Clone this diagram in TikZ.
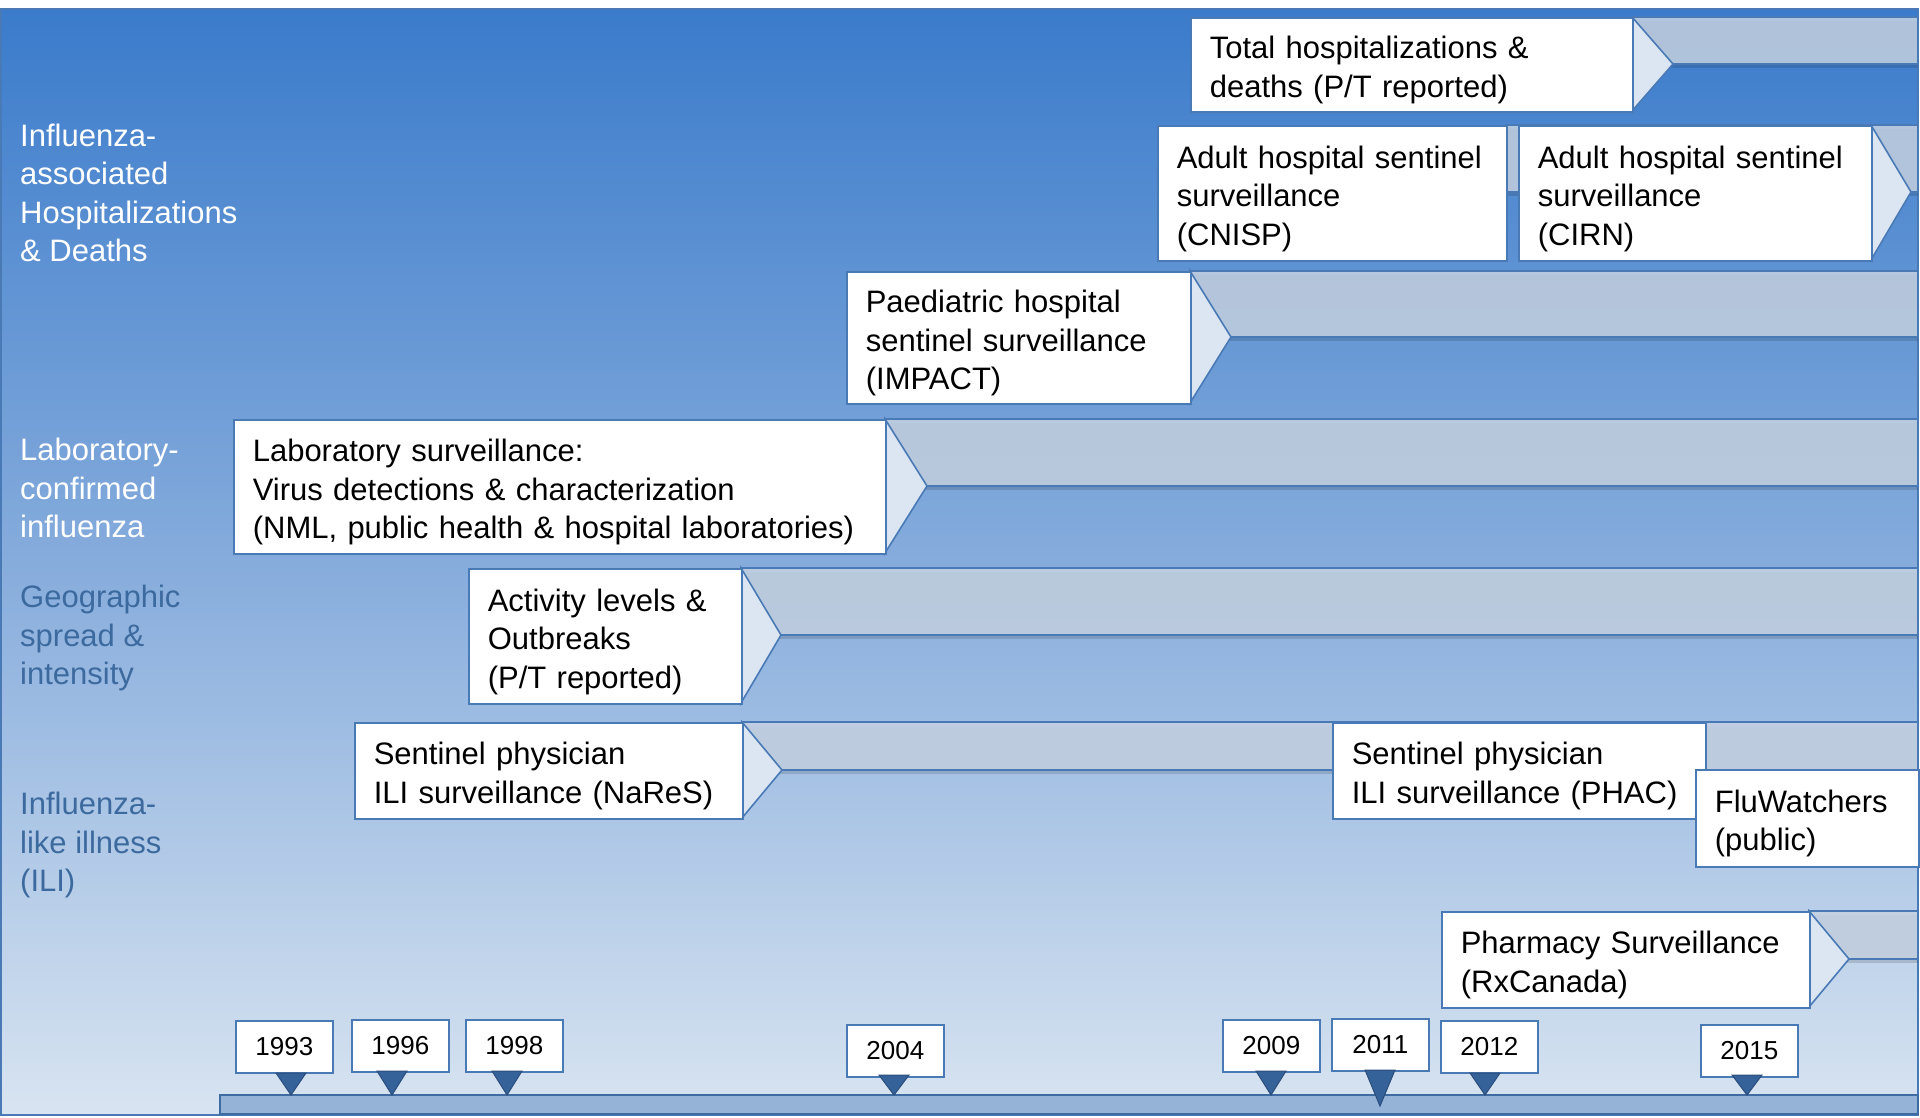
\documentclass[tikz,border=0pt]{standalone}
\usepackage{fontspec}
\setmainfont{Liberation Sans}
\definecolor{bgtop}{HTML}{3A7BCB}
\definecolor{bgmid}{HTML}{86ACDC}
\definecolor{bgbot}{HTML}{D8E4F1}
\definecolor{bdr}{HTML}{4A7AB6}
\definecolor{chevfill}{HTML}{DCE6F2}
\definecolor{bandfill}{HTML}{C5D2E2}
\definecolor{markfill}{HTML}{36629A}
\definecolor{markdraw}{HTML}{2B4E7C}
\definecolor{barfill}{HTML}{95B3D7}
\definecolor{bardraw}{HTML}{3F6BA3}
\definecolor{lbldark}{HTML}{3D6A9E}
\pgfdeclareverticalshading{bgshade}{100bp}{color(0bp)=(bgbot); color(25bp)=(bgbot); color(50bp)=(bgmid); color(75bp)=(bgtop); color(100bp)=(bgtop)}
\tikzset{
  box/.style={draw=bdr, line width=1.6pt, fill=white, anchor=north west, align=left,
    inner xsep=19pt, inner ysep=0pt, text=black, text height=33pt,
    font=\fontsize{31}{38.5}\selectfont},
  yearbox/.style={draw=bdr, line width=1.6pt, fill=white, anchor=north west,
    minimum width=97pt, minimum height=52pt, inner sep=0pt, text=black,
    font=\fontsize{26}{30}\selectfont},
  bandst/.style={draw=bdr, line width=1.4pt, fill=bandfill, fill opacity=.85},
  bandshadow/.style={fill=black, opacity=.13},
  chevst/.style={draw=bdr, line width=1.6pt, fill=chevfill, line join=miter},
  markst/.style={draw=markdraw, line width=1pt, fill=markfill},
  lbllight/.style={anchor=west, align=left, text=white, inner sep=0pt, font=\fontsize{31}{38.5}\selectfont},
  lbldarkst/.style={anchor=west, align=left, text=lbldark, inner sep=0pt, font=\fontsize{31}{38.5}\selectfont}
}
\begin{document}
\begin{tikzpicture}[x=1pt,y=-1pt]
\useasboundingbox (0,0) rectangle (1920,1117);
\fill[white] (0,0) rectangle (1920,1117);
\shade[shading=bgshade, draw=bdr, line width=1.5pt] (1,9) rectangle (1918,1115);

% left category labels
\node[lbllight] (lab1) at (20,193) {Influenza-\\associated\\Hospitalizations\\\& Deaths};
\node[lbllight] (lab2) at (20,488) {Laboratory-\\confirmed\\influenza};
\node[lbldarkst] (lab3) at (20,638) {Geographic\\spread \&\\intensity};
\node[lbldarkst] (lab4) at (20,845) {Influenza-\\like illness\\(ILI)};

% 1 Total hospitalizations
\fill[bandshadow] (1632,21) rectangle (1918,68);
\draw[bandst] (1632,17) rectangle (1918,64);
\draw[chevst] (1632,17) -- (1673,64) -- (1632,111) -- cycle;
\node[box, minimum width=442pt, minimum height=94pt, text width=404pt] (tot) at (1190,17)
  {Total hospitalizations \&\\deaths (P/T reported)};

% 2/3 Adult CNISP / CIRN
\fill[bandshadow] (1506,129) rectangle (1918,196);
\draw[bandst] (1506,125) rectangle (1918,192);
\node[box, minimum width=349pt, minimum height=135pt, text width=311pt] (cnisp) at (1157,125)
  {Adult hospital sentinel\\surveillance\\(CNISP)};
\draw[chevst] (1871,125) -- (1911,192) -- (1871,260) -- cycle;
\node[box, minimum width=353pt, minimum height=135pt, text width=315pt] (cirn) at (1518,125)
  {Adult hospital sentinel\\surveillance\\(CIRN)};

% 4 Paediatric IMPACT
\fill[bandshadow] (1190,275) rectangle (1918,341);
\draw[bandst] (1190,271) rectangle (1918,337);
\draw[chevst] (1190,271) -- (1231,337) -- (1190,403) -- cycle;
\node[box, minimum width=344pt, minimum height=132pt, text width=306pt] (impact) at (846,271)
  {Paediatric hospital\\sentinel surveillance\\(IMPACT)};

% 5 Laboratory
\fill[bandshadow] (885,423) rectangle (1918,490);
\draw[bandst] (885,419) rectangle (1918,486);
\draw[chevst] (885,419) -- (927,486) -- (885,553) -- cycle;
\node[box, minimum width=652pt, minimum height=134pt, text width=614pt] (lab) at (233,419)
  {Laboratory surveillance:\\Virus detections \& characterization\\(NML, public health \& hospital laboratories)};

% 6 Activity levels
\fill[bandshadow] (741,572) rectangle (1918,639);
\draw[bandst] (741,568) rectangle (1918,635);
\draw[chevst] (741,568) -- (781,635) -- (741,703) -- cycle;
\node[box, minimum width=273pt, minimum height=135pt, text width=235pt] (act) at (468,568)
  {Activity levels \&\\Outbreaks\\(P/T reported)};

% 7 Sentinel NaReS
\fill[bandshadow] (742,726) rectangle (1918,774);
\draw[bandst] (742,722) rectangle (1918,770);
\draw[chevst] (742,722) -- (782,770) -- (742,818) -- cycle;
\node[box, minimum width=388pt, minimum height=96pt, text width=350pt] (nares) at (354,722)
  {Sentinel physician\\ILI surveillance (NaReS)};

% 8 Sentinel PHAC
\node[box, minimum width=373pt, minimum height=96pt, text width=335pt] (phac) at (1332,722)
  {Sentinel physician\\ILI surveillance (PHAC)};

% 9 FluWatchers
\node[box, minimum width=223pt, minimum height=97pt, text width=185pt] (flu) at (1695,769)
  {FluWatchers\\(public)};

% 10 Pharmacy
\fill[bandshadow] (1809,915) rectangle (1918,963);
\draw[bandst] (1809,911) rectangle (1918,959);
\draw[chevst] (1809,911) -- (1849,959) -- (1809,1007) -- cycle;
\node[box, minimum width=368pt, minimum height=96pt, text width=330pt] (rx) at (1441,911)
  {Pharmacy Surveillance\\(RxCanada)};

% timeline bar
\draw[draw=bardraw, line width=1.6pt, fill=barfill] (220,1095) rectangle (1918,1114);

% year boxes
\node[yearbox] (y1993) at (235,1020) {1993};
\node[yearbox] (y1996) at (351,1019) {1996};
\node[yearbox] (y1998) at (465,1019) {1998};
\node[yearbox] (y2004) at (846,1024) {2004};
\node[yearbox] (y2009) at (1222,1019) {2009};
\node[yearbox] (y2011) at (1331,1018) {2011};
\node[yearbox] (y2012) at (1440,1020) {2012};
\node[yearbox] (y2015) at (1700,1024) {2015};

% markers
\draw[markst] (276,1073) -- (306,1073) -- (291,1095) -- cycle;
\draw[markst] (377,1071) -- (407,1071) -- (392,1095) -- cycle;
\draw[markst] (492,1071) -- (522,1071) -- (507,1095) -- cycle;
\draw[markst] (879,1075) -- (909,1075) -- (894,1095) -- cycle;
\draw[markst] (1256,1071) -- (1286,1071) -- (1271,1095) -- cycle;
\draw[markst] (1365,1070) -- (1395,1070) -- (1380,1106) -- cycle;
\draw[markst] (1470,1073) -- (1500,1073) -- (1485,1095) -- cycle;
\draw[markst] (1732,1075) -- (1762,1075) -- (1747,1095) -- cycle;
\end{tikzpicture}
\end{document}
